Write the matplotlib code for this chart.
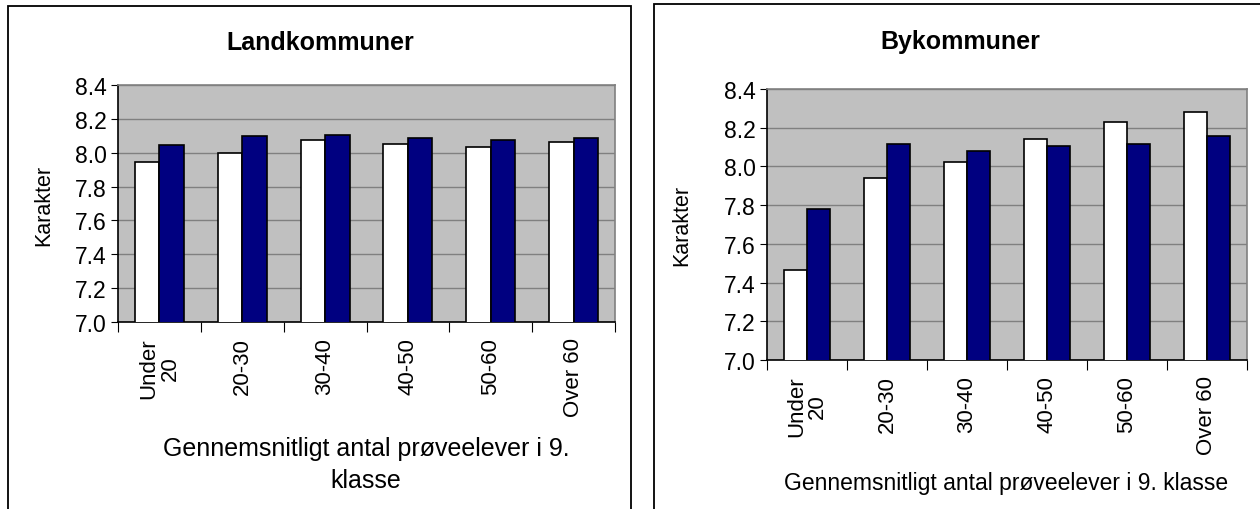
import matplotlib.pyplot as plt
from matplotlib.patches import Rectangle
import numpy as np

plt.rcParams['font.family'] = ['Liberation Sans', 'DejaVu Sans']

categories = ['Under\n20', '20-30', '30-40', '40-50', '50-60', 'Over 60']
# Landkommuner
land_white = [7.946, 8.00, 8.075, 8.051, 8.032, 8.063]
land_navy = [8.043, 8.097, 8.105, 8.085, 8.075, 8.085]
# Bykommuner
by_white = [7.465, 7.940, 8.023, 8.144, 8.229, 8.283]
by_navy = [7.781, 8.117, 8.080, 8.108, 8.117, 8.155]
yticks = [7.0, 7.2, 7.4, 7.6, 7.8, 8.0, 8.2, 8.4]

W, H = 1260, 510
fig = plt.figure(figsize=(W / 100, H / 100), dpi=100)


def px_axes(left, right, top, bottom):
    return fig.add_axes([left / W, (H - bottom) / H, (right - left) / W, (bottom - top) / H])


# panel frames
fig.patches.append(Rectangle((8 / W, -0.05), (631 - 8) / W, (H - 7) / H + 0.05,
                             transform=fig.transFigure, fill=False, ec='black', lw=1.3))
fig.patches.append(Rectangle((654 / W, -0.05), 0.5, (H - 5) / H + 0.05,
                             transform=fig.transFigure, fill=False, ec='black', lw=1.3))


def draw(ax, white, navy, w):
    x = np.arange(len(categories))
    ax.set_facecolor('#C0C0C0')
    ax.set_axisbelow(True)
    ax.grid(axis='y', color='#808080', lw=1)
    ax.bar(x - w / 2, white, w, color='white', edgecolor='black', lw=1.2, zorder=3)
    ax.bar(x + w / 2, navy, w, color='#000080', edgecolor='black', lw=1.2, zorder=3)
    ax.set_ylim(7.0, 8.4)
    ax.set_xlim(-0.5, len(categories) - 0.5)
    ax.set_yticks(yticks)
    ax.set_yticklabels(['%.1f' % v for v in yticks], fontsize=16.5)
    ax.set_xticks(np.arange(-0.5, len(categories), 1))
    ax.set_xticklabels([])
    ax.set_xticks(x, minor=True)
    ax.set_xticklabels(categories, minor=True, rotation=90, fontsize=16,
                       va='top', ha='center', multialignment='center', linespacing=1.0)
    ax.tick_params(axis='x', which='major', length=7, direction='out', color='black')
    ax.tick_params(axis='x', which='minor', length=0, pad=11)
    ax.tick_params(axis='y', length=5, direction='out', pad=3)
    for s in ['top', 'right']:
        ax.spines[s].set_color('#808080')
    for s in ['left', 'bottom']:
        ax.spines[s].set_color('black')
    for s in ax.spines.values():
        s.set_linewidth(1.2)


ax1 = px_axes(118, 615, 86, 323)
draw(ax1, land_white, land_navy, 0.295)
ax2 = px_axes(767, 1247, 90, 361)
draw(ax2, by_white, by_navy, 0.285)

fig.text(320 / W, 1 - 43 / H, 'Landkommuner', fontsize=18, fontweight='bold', ha='center', va='center')
fig.text(960 / W, 1 - 42 / H, 'Bykommuner', fontsize=18, fontweight='bold', ha='center', va='center')
fig.text(44 / W, 1 - 205 / H, 'Karakter', fontsize=15.5, rotation=90, ha='center', va='center')
fig.text(682 / W, 1 - 225 / H, 'Karakter', fontsize=15.5, rotation=90, ha='center', va='center')
fig.text(366 / W, 1 - 465 / H, 'Gennemsnitligt antal prøveelever i 9.\nklasse', fontsize=18,
         ha='center', va='center', multialignment='center', linespacing=1.4)
fig.text(1006 / W, 1 - 484 / H, 'Gennemsnitligt antal prøveelever i 9. klasse', fontsize=16.5,
         ha='center', va='center')

fig.savefig('out.png', dpi=100)
